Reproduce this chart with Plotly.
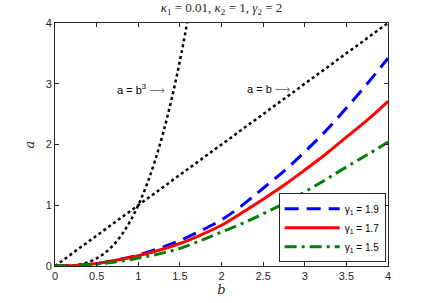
import plotly.graph_objects as go

b_vals = [0, 0.25, 0.5, 0.75, 1, 1.25, 1.5, 1.75, 2, 2.25, 2.5, 2.75, 3, 3.25, 3.5, 3.75, 4]
a_g19 = [0, 0.01, 0.04, 0.10, 0.18, 0.29, 0.42, 0.58, 0.76, 1.00, 1.28, 1.56, 1.88, 2.22, 2.60, 3.00, 3.42]
a_g17 = [0, 0.01, 0.04, 0.10, 0.17, 0.26, 0.37, 0.51, 0.67, 0.88, 1.10, 1.33, 1.58, 1.84, 2.12, 2.40, 2.71]
a_g15 = [0, 0.005, 0.03, 0.07, 0.13, 0.20, 0.29, 0.42, 0.56, 0.70, 0.86, 1.03, 1.22, 1.42, 1.63, 1.83, 2.04]

line_b = [0, 4]
line_a = [0, 4]

cube_b = [0, 0.1, 0.2, 0.3, 0.4, 0.5, 0.6, 0.7, 0.8, 0.9, 1.0, 1.1, 1.2, 1.3, 1.4, 1.5, 1.587]
cube_a = [0, 0.001, 0.008, 0.027, 0.064, 0.125, 0.216, 0.343, 0.512, 0.729, 1.0, 1.331, 1.728, 2.197, 2.744, 3.375, 4.0]

series_names = ["γ<sub>1</sub> = 1.9", "γ<sub>1</sub> = 1.7", "γ<sub>1</sub> = 1.5"]

fig = go.Figure()
fig.add_trace(go.Scatter(x=line_b, y=line_a, mode="lines", showlegend=False,
                         line=dict(color="black", width=2.5, dash="dot")))
fig.add_trace(go.Scatter(x=cube_b, y=cube_a, mode="lines", showlegend=False,
                         line=dict(color="black", width=2.5, dash="dot", shape="spline")))
fig.add_trace(go.Scatter(x=b_vals, y=a_g19, mode="lines", name=series_names[0],
                         line=dict(color="rgb(0,0,255)", width=3, dash="14px,8px", shape="spline")))
fig.add_trace(go.Scatter(x=b_vals, y=a_g17, mode="lines", name=series_names[1],
                         line=dict(color="rgb(255,0,0)", width=3, shape="spline")))
fig.add_trace(go.Scatter(x=b_vals, y=a_g15, mode="lines", name=series_names[2],
                         line=dict(color="rgb(0,128,0)", width=3, dash="12px,5px,3px,5px", shape="spline")))

arrow = "<span style='font-family:DejaVu Sans;color:#777'>⟶</span>"
fig.add_annotation(x=1.34, y=2.9, xref="x", yref="y", xanchor="right", showarrow=False,
                   text="a = b<sup>3</sup> " + arrow,
                   font=dict(family="Liberation Sans, Arial", size=11, color="black"))
fig.add_annotation(x=2.86, y=2.9, xref="x", yref="y", xanchor="right", showarrow=False,
                   text="a = b " + arrow,
                   font=dict(family="Liberation Sans, Arial", size=11, color="black"))

axis_common = dict(showline=True, linecolor="#262626", linewidth=1, mirror="ticks",
                   ticks="inside", ticklen=4, tickcolor="#262626", showgrid=False, zeroline=False,
                   automargin=False,
                   tickfont=dict(family="Liberation Sans, Arial", size=11, color="#262626"))

fig.update_xaxes(range=[0, 4], tickvals=[0, 0.5, 1, 1.5, 2, 2.5, 3, 3.5, 4],
                 ticktext=["0", "0.5", "1", "1.5", "2", "2.5", "3", "3.5", "4"],
                 title=dict(text="<i>b</i>", standoff=2,
                            font=dict(family="DejaVu Serif, Liberation Serif", size=13, color="#262626")),
                 **axis_common)
fig.update_yaxes(range=[0, 4], tickvals=[0, 1, 2, 3, 4],
                 title=dict(text="<i>a</i>", standoff=8,
                            font=dict(family="DejaVu Serif, Liberation Serif", size=13, color="#262626")),
                 **axis_common)

fig.update_layout(
    width=428, height=303,
    margin=dict(l=55, r=40, t=23, b=37),
    paper_bgcolor="white", plot_bgcolor="white",
    title=dict(text="<i>κ</i><sub>1</sub> = 0.01, <i>κ</i><sub>2</sub> = 1, <i>γ</i><sub>2</sub> = 2",
               x=0.5, xref="paper", y=0.99, yanchor="top",
               font=dict(family="Liberation Serif, DejaVu Serif", size=13, color="#262626")),
    legend=dict(x=0.993, y=0.015, xanchor="right", yanchor="bottom",
                bordercolor="#262626", borderwidth=1, bgcolor="white",
                font=dict(family="Liberation Sans, Arial", size=10, color="black"),
                itemwidth=55, tracegroupgap=0),
)

fig.write_html("out.html", config={"displayModeBar": False},
               post_script="document.body.style.margin='0px';")
